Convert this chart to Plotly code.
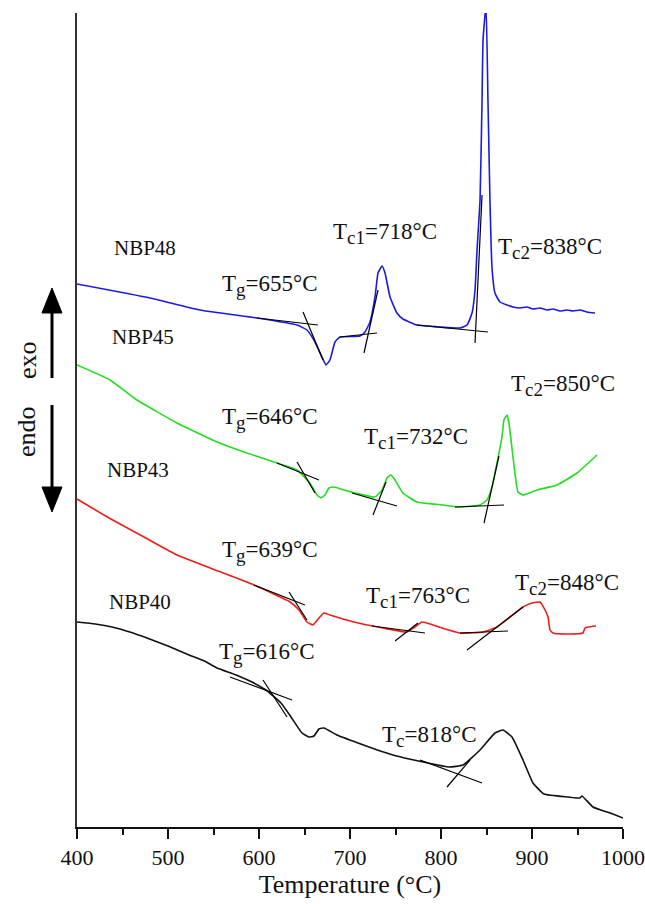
import plotly.graph_objects as go

# ---------------- data (temperature in °C, heat flow in arbitrary units) -------------
nbp48_t = [400, 480.2, 535.2, 597.8, 641.8, 652.7, 661.5, 669.2, 673.6, 678.0, 683.5, 689.0,
           711.0, 716.5, 722.0, 727.5, 730.8, 735.2, 738.5, 744.0, 751.6, 758.2, 773.6, 798.9,
           820.9, 828.6, 834.1, 837.4, 839.6, 842.9, 845.1, 846.2, 849.5, 851.6, 853.8, 856.0,
           859.3, 864.8, 879.1, 886.8, 894.5, 901.1, 908.8, 916.5, 923.1, 930.8, 938.5, 945.1,
           952.7, 960.4, 969.2]
nbp48_v = [543, 529, 517, 509, 502, 497, 485, 470, 462, 467, 485, 490,
           491, 495, 505, 530, 554, 561, 554, 530, 514, 508, 502, 500,
           499, 502, 514, 537, 577, 627, 727, 787, 822, 727, 627, 560,
           534, 525, 520, 519, 520, 518, 519, 517, 518, 516, 517, 516,
           517, 515, 514]

nbp45_t = [400, 436.3, 465.9, 509.9, 553.8, 583.5, 619.8, 641.8, 656.0, 663.7, 668.1, 672.5,
           676.9, 682.4, 693.4, 705.5, 727.5, 735.2, 740.7, 745.1, 749.5, 758.2, 773.6, 802.2,
           820.9, 842.9, 850.5, 856.0, 861.5, 867.0, 869.2, 872.5, 874.7, 879.1, 884.6, 890.1,
           905.5, 927.5, 949.5, 971.4]
nbp45_v = [462, 447, 427, 404, 385, 375, 364, 357, 344, 332, 329, 332,
           339, 340, 337, 334, 330, 337, 349, 352, 347, 334, 325, 322,
           320, 322, 327, 340, 364, 390, 407, 412, 404, 370, 335, 332,
           337, 342, 354, 372]

nbp43_t = [400, 435.2, 473.6, 509.9, 546.2, 594.5, 634.1, 644.0, 652.7, 659.3, 665.9, 671.4,
           678.0, 704.4, 736.3, 762.6, 771.4, 779.1, 791.2, 820.9, 846.2, 861.5, 875.8, 890.1,
           900.0, 908.8, 914.3, 917.6, 919.8, 923.1, 938.5, 956.0, 958.2, 961.5, 970.3]
nbp43_v = [328, 309, 290, 272, 259, 242, 225, 217, 205, 202, 209, 214,
           212, 205, 199, 195, 200, 205, 202, 194, 195, 200, 210, 220,
           224, 225, 217, 210, 197, 194, 193, 194, 199, 200, 201]

nbp40_t = [400, 420, 438.5, 458, 476.9, 500, 523.1, 540, 553.8, 575, 592.3, 607.7, 624.2,
           635.2, 647.3, 654.9, 660.4, 665.9, 671.4, 685.7, 708.8, 730, 747.3, 765, 785.7,
           808.8, 824.2, 842.9, 859.3, 868.1, 878.0, 890.1, 901.1, 913.2, 939.6, 952.7, 954.9,
           967.0, 985.7, 1000]
nbp40_v = [205, 203, 200, 195, 189, 181, 172, 166, 159, 152, 145, 137, 124,
           110, 94, 90, 91, 98, 99, 92, 84, 77, 72, 68, 64,
           60, 62, 77, 94, 97, 90, 67, 44, 33, 30, 29, 31,
           20, 14, 9]

# tangent construction lines: (x0, y0, x1, y1)
tangents = [
    (597.8, 509, 664.8, 502), (648.4, 515, 670.3, 467),
    (689.0, 490, 729.7, 494), (715.4, 474, 730.8, 537),
    (773.6, 502, 851.6, 495), (837.4, 484, 845.1, 632),
    (619.8, 364, 665.9, 347), (641.8, 365, 661.5, 334),
    (702.2, 334, 751.6, 321), (725.3, 312, 739.6, 345),
    (815.4, 320, 869.2, 322), (847.3, 304, 863.7, 371),
    (594.5, 242, 650.5, 222), (633.0, 235, 652.7, 207),
    (724.2, 201, 782.4, 194), (749.5, 186, 774.7, 204),
    (820.9, 194, 873.6, 196), (828.6, 177, 890.1, 220),
    (568.1, 150, 636.3, 127), (604.4, 147, 630.8, 110),
    (776.9, 67, 845.1, 44), (806.6, 40, 831.9, 67),
]

sample_names = ["NBP48", "NBP45", "NBP43", "NBP40"]
sample_pos = [(474.7, 579), (472.5, 490), (467.0, 357), (469.2, 225)]

event_labels = [
    ("g", "655", 612.1, 545), ("c1", "718", 738.5, 597), ("c2", "838", 919.8, 582),
    ("g", "646", 612.1, 412), ("c1", "732", 772.5, 392), ("c2", "850", 934.1, 445),
    ("g", "639", 612.1, 279), ("c1", "763", 774.7, 233), ("c2", "848", 938.5, 246),
    ("g", "616", 608.8, 177), ("c", "818", 787.9, 94),
]

x_ticks = [400, 500, 600, 700, 800, 900, 1000]

# ---------------- figure ----------------
FONT = "Liberation Serif, Times New Roman, serif"
fig = go.Figure()

for t, v, col in [(nbp48_t, nbp48_v, "#1a1ae6"), (nbp45_t, nbp45_v, "#22dd22"),
                  (nbp43_t, nbp43_v, "#ee1c1c"), (nbp40_t, nbp40_v, "#111111")]:
    fig.add_trace(go.Scatter(x=t, y=v, mode="lines",
                             line=dict(color=col, width=1.6, shape="spline", smoothing=0.4),
                             showlegend=False, hoverinfo="skip"))

for x0, y0, x1, y1 in tangents:
    fig.add_trace(go.Scatter(x=[x0, x1], y=[y0, y1], mode="lines",
                             line=dict(color="black", width=1.2),
                             showlegend=False, hoverinfo="skip"))

ann = []
for name, (x, y) in zip(sample_names, sample_pos):
    ann.append(dict(x=x, y=y, text=name, showarrow=False,
                    font=dict(family=FONT, size=21, color="#111")))
for sub, val, x, y in event_labels:
    txt = "T<sub><span style='font-size:19px'>%s</span></sub>=%s°C" % (sub, val)
    ann.append(dict(x=x, y=y, text=txt, showarrow=False, yshift=-3,
                    font=dict(family=FONT, size=23, color="#111")))

# endo / exo labels
ann.append(dict(xref="paper", yref="paper", x=-0.0916, y=0.5737, text="exo", textangle=-90,
                xanchor="center", yanchor="middle",
                showarrow=False, font=dict(family=FONT, size=26, color="#111")))
ann.append(dict(xref="paper", yref="paper", x=-0.0916, y=0.4865, text="endo", textangle=-90,
                xanchor="center", yanchor="middle",
                showarrow=False, font=dict(family=FONT, size=26, color="#111")))

PW, PH = 546.0, 814.0
ax_x = -25 / PW
hw = 10 / PW
shapes = [
    dict(type="line", xref="paper", yref="paper", x0=ax_x, x1=ax_x,
         y0=(827 - 378) / PH, y1=(827 - 310) / PH, line=dict(color="black", width=3)),
    dict(type="path", xref="paper", yref="paper",
         path="M %f,%f L %f,%f L %f,%f Z" % (ax_x, (827 - 288) / PH, ax_x - hw, (827 - 313) / PH,
                                               ax_x + hw, (827 - 313) / PH),
         fillcolor="black", line=dict(color="black", width=1)),
    dict(type="line", xref="paper", yref="paper", x0=ax_x, x1=ax_x,
         y0=(827 - 405) / PH, y1=(827 - 490) / PH, line=dict(color="black", width=3)),
    dict(type="path", xref="paper", yref="paper",
         path="M %f,%f L %f,%f L %f,%f Z" % (ax_x, (827 - 512) / PH, ax_x - hw, (827 - 487) / PH,
                                               ax_x + hw, (827 - 487) / PH),
         fillcolor="black", line=dict(color="black", width=1)),
]

fig.update_layout(
    width=645, height=904, autosize=False,
    margin=dict(l=77, r=22, t=13, b=77),
    paper_bgcolor="white", plot_bgcolor="white",
    annotations=ann, shapes=shapes,
    font=dict(family=FONT, color="#111"),
)
fig.update_xaxes(range=[400, 1000], tickvals=x_ticks, ticks="outside", ticklen=10, tickwidth=2,
                 tickcolor="#111", showline=True, linewidth=2, linecolor="#111", automargin=False,
                 showgrid=False, zeroline=False, tickfont=dict(family=FONT, size=22, color="#111"),
                 minor=dict(dtick=50, tick0=400, ticks="outside", ticklen=6, tickwidth=2, tickcolor="#111"),
                 title=dict(text="Temperature (°C)", font=dict(family=FONT, size=26, color="#111"),
                            standoff=2))
fig.update_yaxes(range=[0, 814], showticklabels=False, ticks="", showline=True, linewidth=2,
                 linecolor="#333", showgrid=False, zeroline=False, automargin=False)

fig.write_html("out.html", config={"responsive": False})
